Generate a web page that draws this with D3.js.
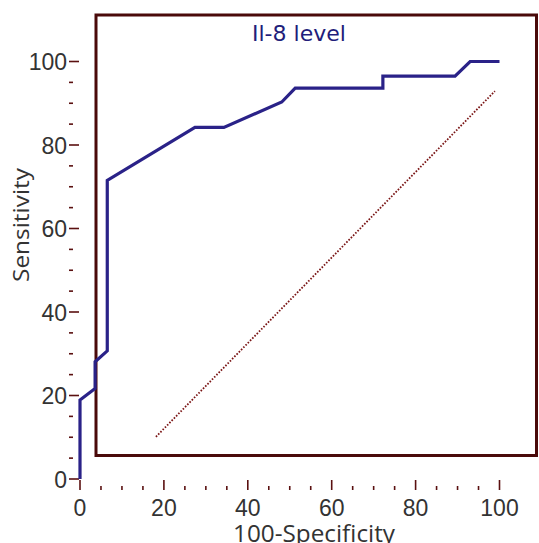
<!DOCTYPE html>
<html><head><meta charset="utf-8">
<script src="https://cdn.jsdelivr.net/npm/d3@7"></script>
<style>body{margin:0;background:#fff}svg{display:block}</style>
</head><body>
<svg id="c" width="539" height="543"></svg>
<script>
const rocX = [0, 0, 3.6, 3.6, 6.5, 6.5, 27.4, 34.3, 48.1, 51.3, 72.2, 72.2, 89.4, 93, 100];
const rocY = [0, 18.9, 21.7, 28.1, 30.7, 71.5, 84.2, 84.2, 90.3, 93.6, 93.6, 96.5, 96.5, 100, 100];
const refX = [18.1, 98.9];
const refY = [10.1, 92.9];
const majorTicks = [0, 20, 40, 60, 80, 100];
const minorTicks = d3.range(0, 101, 5).filter(v => v % 20 !== 0);
const title = "Il-8 level";
const xLabel = "100-Specificity";
const yLabel = "Sensitivity";

const svg = d3.select("#c");
const x = d3.scaleLinear().domain([0, 100]).range([80, 499.5]);
const y = d3.scaleLinear().domain([0, 100]).range([479, 61.5]);
const axisCol = "#5a1010";
const lineCol = "#2a2288";
const textCol = "#333333";

// frame
svg.append("rect").attr("x", 96).attr("y", 15).attr("width", 440.5).attr("height", 440.5)
  .attr("fill", "none").attr("stroke", "#4a0a0a").attr("stroke-width", 3);

// y axis ticks
const gy = svg.append("g");
gy.selectAll(".maj").data(majorTicks).join("line")
  .attr("x1", 69).attr("x2", 79).attr("y1", d => y(d)).attr("y2", d => y(d))
  .attr("stroke", axisCol).attr("stroke-width", 1.6);
gy.selectAll(".min").data(minorTicks).join("line").attr("class", "min")
  .attr("x1", 69).attr("x2", 73).attr("y1", d => y(d)).attr("y2", d => y(d))
  .attr("stroke", axisCol).attr("stroke-width", 1.6);
gy.selectAll("text").data(majorTicks).join("text")
  .attr("x", 67).attr("y", d => y(d) + 8.5).attr("text-anchor", "end")
  .attr("font-family", "Liberation Sans, Arial, sans-serif").attr("font-size", 23)
  .attr("fill", textCol).text(d => d);

// x axis ticks
const gx = svg.append("g");
gx.selectAll(".maj").data(majorTicks).join("line")
  .attr("y1", 480).attr("y2", 490).attr("x1", d => x(d)).attr("x2", d => x(d))
  .attr("stroke", axisCol).attr("stroke-width", 1.6);
gx.selectAll(".min").data(minorTicks).join("line").attr("class", "min")
  .attr("y1", 486).attr("y2", 490).attr("x1", d => x(d)).attr("x2", d => x(d))
  .attr("stroke", axisCol).attr("stroke-width", 1.6);
gx.selectAll("text").data(majorTicks).join("text")
  .attr("x", d => x(d)).attr("y", 516).attr("text-anchor", "middle")
  .attr("font-family", "Liberation Sans, Arial, sans-serif").attr("font-size", 23)
  .attr("fill", textCol).text(d => d);

// reference line
svg.append("path").datum(refX.map((v, i) => [v, refY[i]]))
  .attr("d", d3.line().x(d => x(d[0])).y(d => y(d[1])))
  .attr("fill", "none").attr("stroke", "#7a1515").attr("stroke-width", 1.8)
  .attr("stroke-dasharray", "1.6,1.6");

// ROC curve
svg.append("path").datum(rocX.map((v, i) => [v, rocY[i]]))
  .attr("d", d3.line().x(d => x(d[0])).y(d => y(d[1])))
  .attr("fill", "none").attr("stroke", lineCol).attr("stroke-width", 3.2)
  .attr("stroke-linejoin", "miter");

// title
svg.append("text").attr("x", 252).attr("y", 41)
  .attr("font-family", "DejaVu Sans, sans-serif").attr("font-size", 22)
  .attr("fill", "#221d7a").text(title);

// axis labels
svg.append("text").attr("x", 233).attr("y", 542)
  .attr("font-family", "Open Sans, sans-serif").attr("font-size", 23)
  .attr("textLength", 162).attr("lengthAdjust", "spacingAndGlyphs")
  .attr("fill", textCol).text(xLabel);
svg.append("text").attr("transform", "translate(29,282) rotate(-90)")
  .attr("font-family", "Open Sans, sans-serif").attr("font-size", 22)
  .attr("textLength", 114).attr("lengthAdjust", "spacingAndGlyphs")
  .attr("fill", textCol).text(yLabel);
</script>
</body></html>
